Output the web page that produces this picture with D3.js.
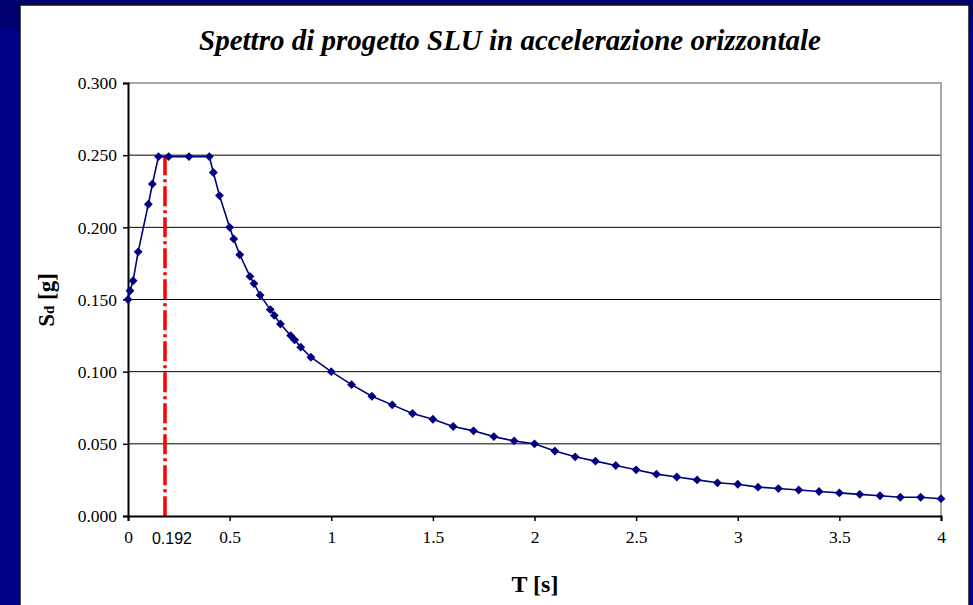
<!DOCTYPE html>
<html>
<head>
<meta charset="utf-8">
<script src="https://cdn.jsdelivr.net/npm/d3@7"></script>
<style>
html,body{margin:0;padding:0;background:#000086;}
svg{display:block;}
</style>
</head>
<body>
<svg id="chart" width="973" height="605"></svg>
<script>
// ---- data ----
const periods = [0,0.01,0.025,0.05,0.1,0.12,0.15,0.2,0.3,0.4,0.42,0.45,0.5,0.52,0.55,0.6,0.62,0.65,0.7,0.72,0.75,0.8,0.82,0.85,0.9,
  1.0,1.1,1.2,1.3,1.4,1.5,1.6,1.7,1.8,1.9,2.0,2.1,2.2,2.3,2.4,2.5,2.6,2.7,2.8,2.9,3.0,3.1,3.2,3.3,3.4,3.5,3.6,3.7,3.8,3.9,4.0];
const sdValues = [0.150,0.156,0.163,0.183,0.216,0.230,0.249,0.249,0.249,0.249,0.238,0.222,0.200,0.192,0.181,0.166,0.161,0.153,0.143,0.139,0.133,0.125,0.122,0.117,0.110,
  0.100,0.091,0.083,0.077,0.071,0.067,0.062,0.059,0.055,0.052,0.050,0.045,0.041,0.038,0.035,0.032,0.029,0.027,0.025,0.023,0.022,0.020,0.019,0.018,0.017,0.016,0.015,0.014,0.013,0.013,0.012];
const xTicks = [0,0.5,1,1.5,2,2.5,3,3.5,4];
const xTickLabels = ["0","0.5","1","1.5","2","2.5","3","3.5","4"];
const yTicks = [0,0.05,0.1,0.15,0.2,0.25,0.3];
const yTickLabels = ["0.000","0.050","0.100","0.150","0.200","0.250","0.300"];
const markerT = [0.182];
const markerLabel = ["0.192"];
const title = "Spettro di progetto SLU in accelerazione orizzontale";
const xTitle = "T [s]";

const data = periods.map((t,i)=>({t, v: sdValues[i]}));

const svg = d3.select("#chart");
// slide background
svg.append("rect").attr("x",0).attr("y",0).attr("width",973).attr("height",605).attr("fill","#000088");
svg.append("rect").attr("x",0).attr("y",0).attr("width",973).attr("height",30).attr("fill","#000070");
// chart white panel
svg.append("rect").attr("x",20).attr("y",5).attr("width",949).attr("height",610)
  .attr("fill","#fff").attr("stroke","#111").attr("stroke-width",1.5);

const L = 128, R = 941, T0 = 83, B = 516;
const x = d3.scaleLinear().domain([0,4]).range([L,R]);
const y = d3.scaleLinear().domain([0,0.3]).range([B,T0]);

// title
svg.append("text").attr("x",510).attr("y",50).attr("text-anchor","middle")
  .attr("font-family","'Liberation Serif','Times New Roman',serif").attr("font-size",29)
  .attr("font-weight","bold").attr("font-style","italic").attr("fill","#000").text(title);

// gridlines
const grid = svg.append("g");
grid.selectAll("line").data(yTicks.filter(v=>v>0 && v<0.3)).join("line")
  .attr("x1",L).attr("x2",R).attr("y1",d=>y(d)).attr("y2",d=>y(d))
  .attr("stroke","#000").attr("stroke-width",1);
// plot border (top/right gray)
svg.append("path").attr("d",`M${L},${y(0.3)}H${R}V${B}`).attr("fill","none").attr("stroke","#8c8c8c").attr("stroke-width",1.5);

// red dash-dot marker
svg.selectAll(".mk").data(markerT).join("line").attr("class","mk")
  .attr("x1",d=>x(d)).attr("x2",d=>x(d)).attr("y1",y(0.25)).attr("y2",B)
  .attr("stroke","#ff0000").attr("stroke-width",3.5).attr("stroke-dasharray","20,4,3,4");

// axes
const yAxis = d3.axisLeft(y).tickValues(yTicks).tickFormat((d,i)=>yTickLabels[i]).tickSize(5).tickPadding(6);
const gy = svg.append("g").attr("transform",`translate(${L},0)`).call(yAxis);
gy.select(".domain").attr("stroke","#000").attr("stroke-width",2);
gy.selectAll(".tick line").attr("stroke","#000").attr("stroke-width",1.5);
gy.selectAll(".tick text").attr("font-family","'Liberation Serif','Times New Roman',serif").attr("font-size",17.5).attr("fill","#000").attr("dy","0.33em");

const xAxis = d3.axisBottom(x).tickValues(xTicks).tickFormat((d,i)=>xTickLabels[i]).tickSize(5).tickPadding(10);
const gx = svg.append("g").attr("transform",`translate(0,${B})`).call(xAxis);
gx.select(".domain").attr("stroke","#000").attr("stroke-width",2);
gx.selectAll(".tick line").attr("stroke","#000").attr("stroke-width",1.5);
gx.selectAll(".tick text").attr("font-family","'Liberation Serif','Times New Roman',serif").attr("font-size",17.5).attr("fill","#000");

// marker label
svg.selectAll(".mkl").data(markerT).join("text").attr("class","mkl")
  .attr("x",d=>x(d)+7).attr("y",B+28).attr("text-anchor","middle")
  .attr("font-family","'Liberation Sans',Arial,sans-serif").attr("font-size",16).attr("fill","#000")
  .text((d,i)=>markerLabel[i]);

// series line
svg.append("path").datum(data)
  .attr("d", d3.line().x(d=>x(d.t)).y(d=>y(d.v)))
  .attr("fill","none").attr("stroke","#000080").attr("stroke-width",1.6);
// diamond markers
svg.selectAll(".pt").data(data).join("path").attr("class","pt")
  .attr("d", d3.symbol().type(d3.symbolDiamond2).size(50))
  .attr("transform", d=>`translate(${x(d.t)},${y(d.v)})`)
  .attr("fill","#000080");

// axis titles
svg.append("text").attr("x",535).attr("y",592).attr("text-anchor","middle")
  .attr("font-family","'Liberation Serif','Times New Roman',serif").attr("font-size",24).attr("font-weight","bold")
  .attr("fill","#000").text(xTitle);
const yl = svg.append("text").attr("transform","translate(54,300) rotate(-90)").attr("text-anchor","middle")
  .attr("font-family","'Liberation Serif','Times New Roman',serif").attr("font-size",23).attr("font-weight","bold").attr("fill","#000");
yl.append("tspan").text("S");
yl.append("tspan").attr("font-size",15).text("d");
yl.append("tspan").text(" [g]");
</script>
</body>
</html>
